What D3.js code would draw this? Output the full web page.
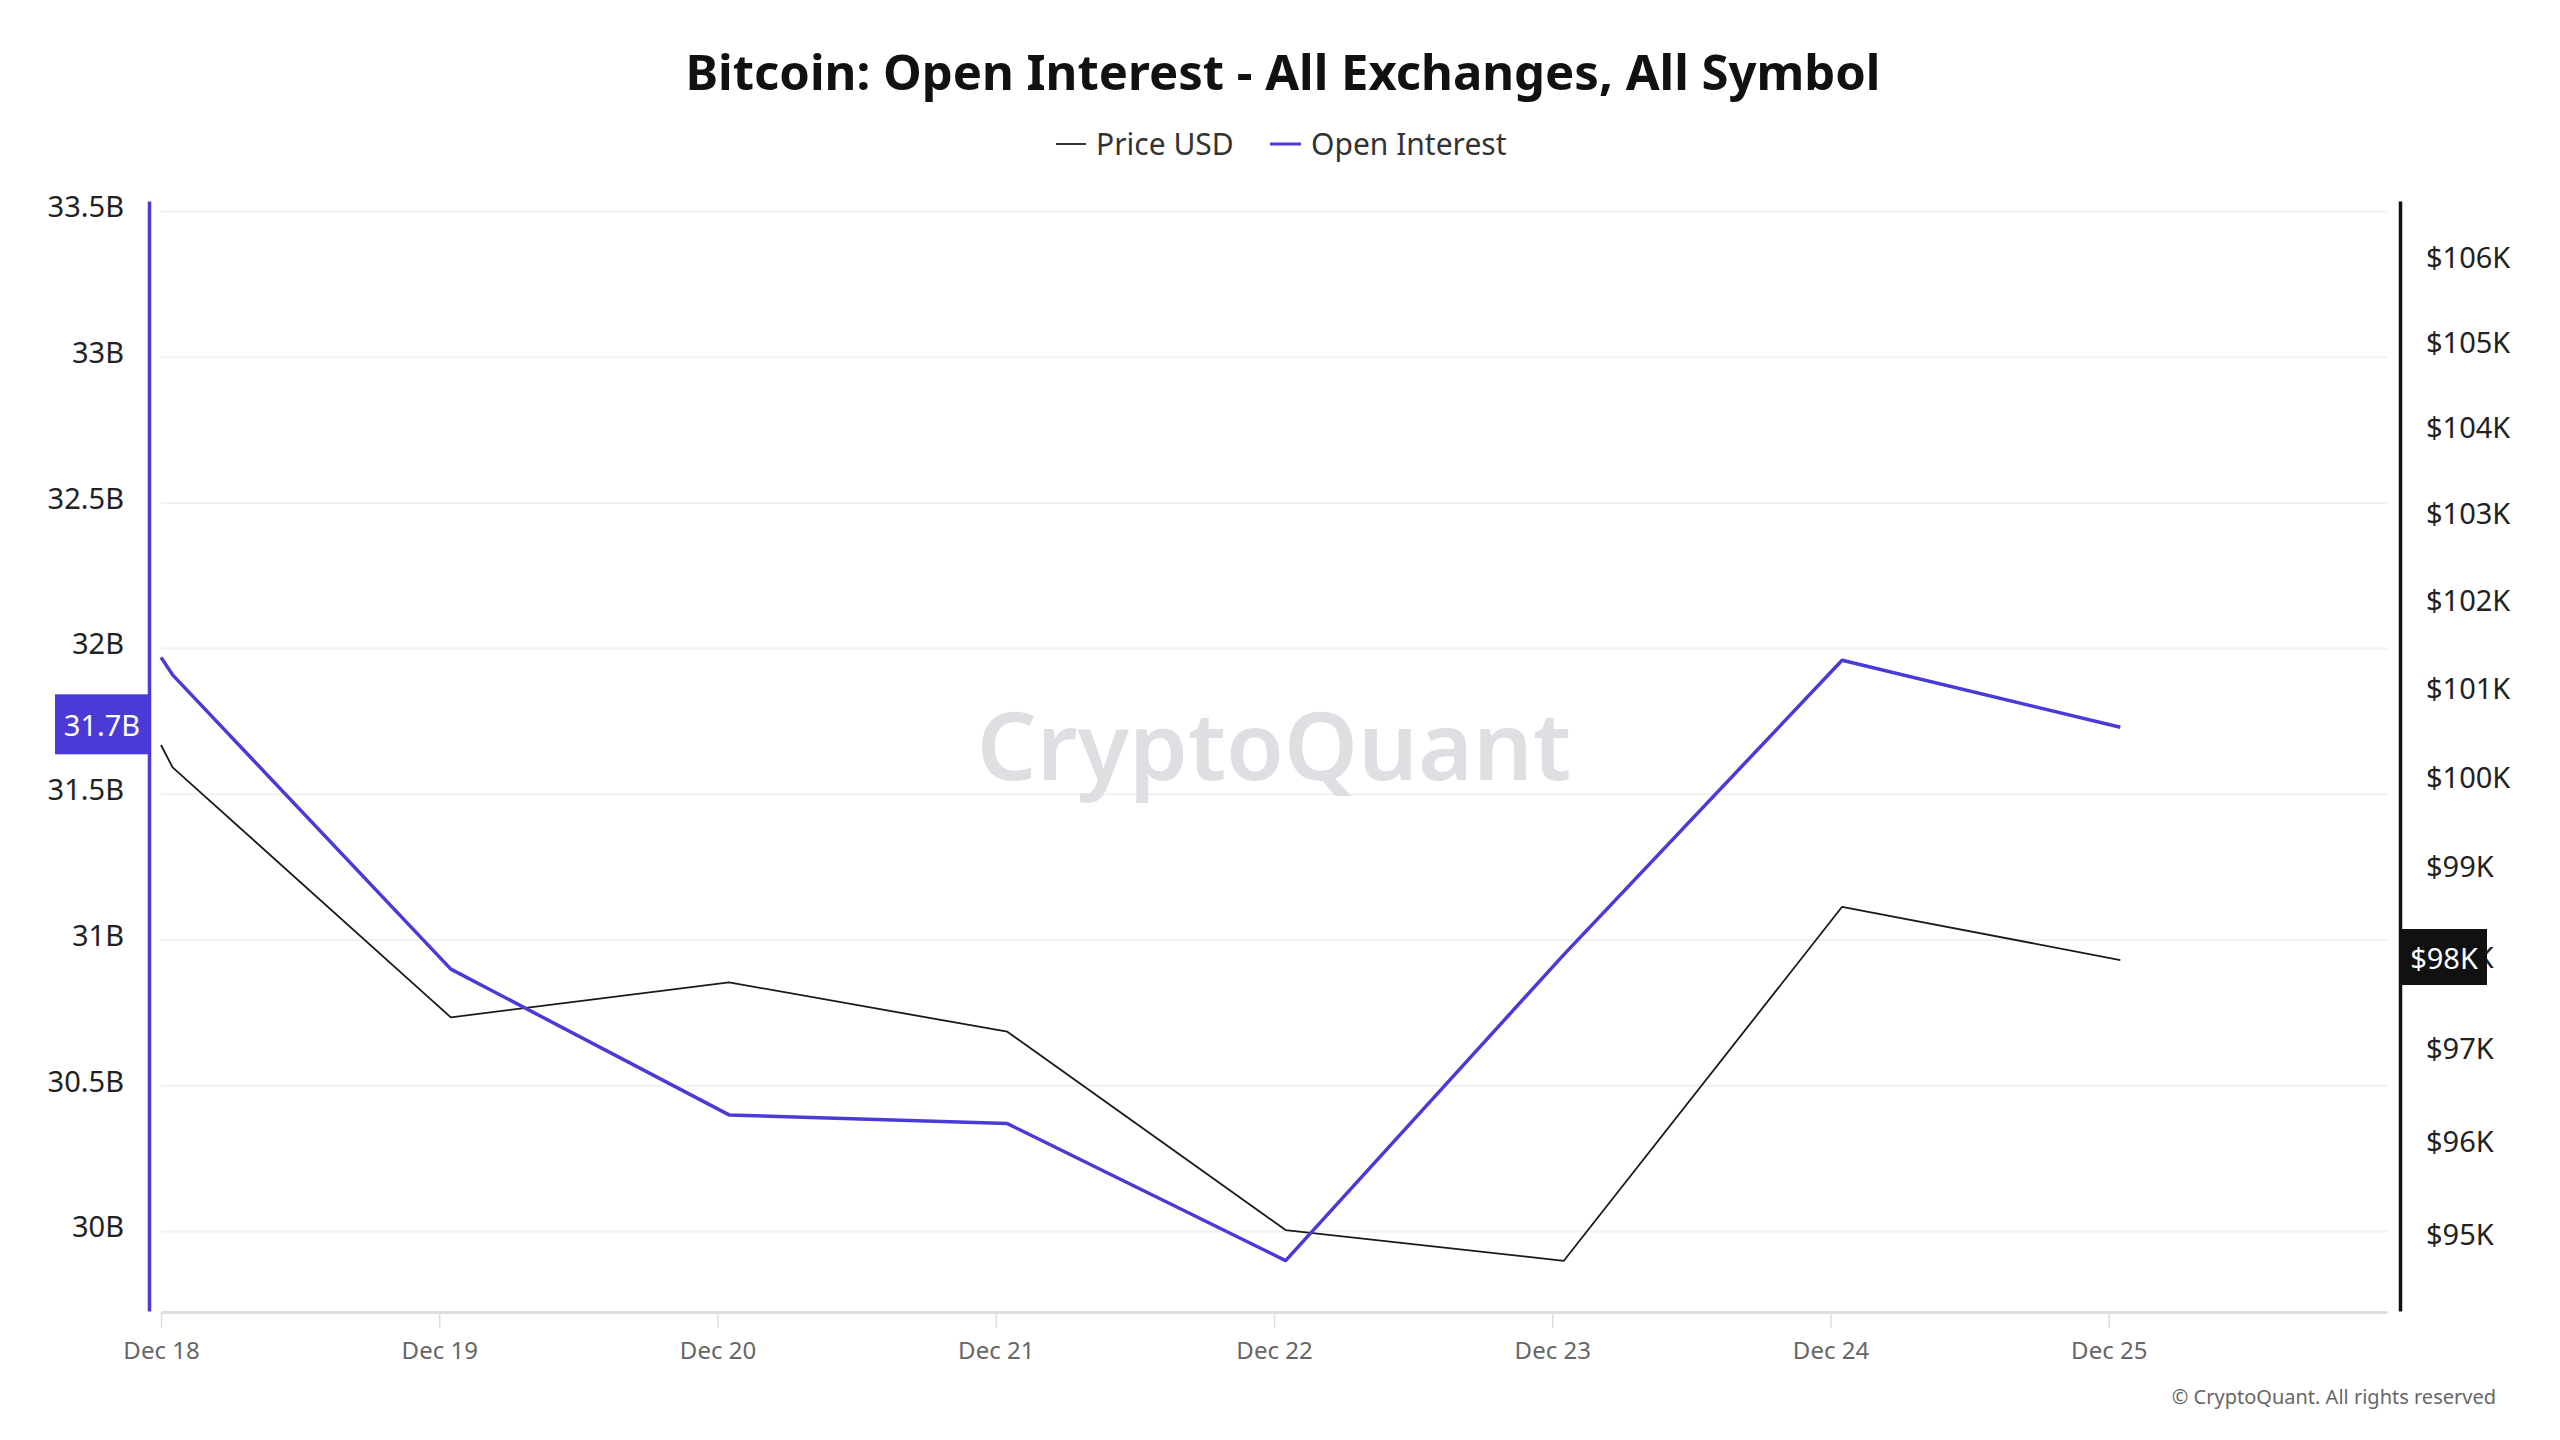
<!DOCTYPE html>
<html>
<head>
<meta charset="utf-8">
<script src="https://cdn.jsdelivr.net/npm/d3@7"></script>
<style>
  html, body { margin: 0; padding: 0; background: #ffffff; }
  svg { display: block; }
  text { font-family: "Noto Sans", "Open Sans", sans-serif; }
</style>
</head>
<body>
<svg id="chart" width="2560" height="1440"></svg>
<script>
// ---------- data ----------
const timestamps = [
  "2024-12-18T00:00:00Z", "2024-12-18T01:00:00Z", "2024-12-19T01:00:00Z",
  "2024-12-20T01:00:00Z", "2024-12-21T01:00:00Z", "2024-12-22T01:00:00Z",
  "2024-12-23T01:00:00Z", "2024-12-24T01:00:00Z", "2024-12-25T01:00:00Z"
];
const priceUSD = [100369, 100118, 97349, 97732, 97192, 95053, 94726, 98564, 97977];
const openInterest = [31.97e9, 31.91e9, 30.90e9, 30.40e9, 30.37e9, 29.90e9, 30.95e9, 31.96e9, 31.73e9];
const leftTicks = [30e9, 30.5e9, 31e9, 31.5e9, 32e9, 32.5e9, 33e9, 33.5e9];
const leftTickLabels = ["30B", "30.5B", "31B", "31.5B", "32B", "32.5B", "33B", "33.5B"];
const rightTicks = [95000, 96000, 97000, 98000, 99000, 100000, 101000, 102000, 103000, 104000, 105000, 106000];
const xTicks = ["2024-12-18", "2024-12-19", "2024-12-20", "2024-12-21", "2024-12-22", "2024-12-23", "2024-12-24", "2024-12-25"];
const xTickLabels = ["Dec 18", "Dec 19", "Dec 20", "Dec 21", "Dec 22", "Dec 23", "Dec 24", "Dec 25"];
const lastOILabel = "31.7B";
const lastPriceLabel = "$98K";

const titleText = "Bitcoin: Open Interest - All Exchanges, All Symbol";
const seriesNames = ["Price USD", "Open Interest"];

// ---------- layout ----------
const BLUE = "#4b3bd6";
const plotTop = 201, plotBottom = 1311;
const plotLeft = 161, plotRight = 2387;
const leftAxisX = 149, rightAxisX = 2400;

const svg = d3.select("#chart");

const x = d3.scaleUtc()
  .domain([new Date("2024-12-18T00:00:00Z"), new Date("2024-12-26T00:00:00Z")])
  .range([plotLeft, plotRight]);
const yL = d3.scaleLinear().domain([29.727e9, 33.536e9]).range([plotBottom, plotTop]);
const yR = d3.scaleLog().domain([94194, 106686]).range([plotBottom, plotTop]);

const dates = timestamps.map(s => new Date(s));

// title
svg.append("text")
  .attr("x", 1283).attr("y", 71)
  .attr("text-anchor", "middle").attr("dominant-baseline", "central")
  .attr("font-size", 49).attr("font-weight", 700).attr("fill", "#111")
  .text(titleText);

// legend
const legend = svg.append("g");
legend.append("line").attr("x1", 1056).attr("x2", 1086).attr("y1", 144).attr("y2", 144)
  .attr("stroke", "#333").attr("stroke-width", 2);
legend.append("text").attr("x", 1096).attr("y", 143).attr("dominant-baseline", "central")
  .attr("font-size", 30).attr("fill", "#333").text(seriesNames[0]);
legend.append("line").attr("x1", 1270).attr("x2", 1301).attr("y1", 144).attr("y2", 144)
  .attr("stroke", BLUE).attr("stroke-width", 3);
legend.append("text").attr("x", 1311).attr("y", 143).attr("dominant-baseline", "central")
  .attr("font-size", 30).attr("fill", "#333").text(seriesNames[1]);

// gridlines
svg.append("g").selectAll("line").data(leftTicks).join("line")
  .attr("x1", plotLeft).attr("x2", plotRight)
  .attr("y1", d => yL(d)).attr("y2", d => yL(d))
  .attr("stroke", "#f1f1f3").attr("stroke-width", 2);

// watermark
svg.append("text")
  .attr("x", 1274).attr("y", 744)
  .attr("text-anchor", "middle").attr("dominant-baseline", "central")
  .attr("font-size", 94).attr("font-weight", 600).attr("fill", "#dfdfe3")
  .text("CryptoQuant");

// x axis
const xAxis = d3.axisBottom(x)
  .tickValues(xTicks.map(s => new Date(s + "T00:00:00Z")))
  .tickFormat((d, i) => xTickLabels[i])
  .tickSizeInner(16).tickSizeOuter(0).tickPadding(14);
const gx = svg.append("g").attr("transform", `translate(0,${plotBottom + 1})`).call(xAxis);
gx.select(".domain").attr("stroke", "#dddddd").attr("stroke-width", 3);
gx.selectAll(".tick line").attr("stroke", "#dddddd").attr("stroke-width", 1.5);
gx.selectAll(".tick text").attr("font-size", 24).attr("fill", "#666")
  .attr("font-family", "'Noto Sans', sans-serif");

// left axis
const leftAxis = d3.axisLeft(yL).tickValues(leftTicks)
  .tickFormat((d, i) => leftTickLabels[i]).tickSize(0).tickPadding(25);
const gl = svg.append("g").attr("transform", `translate(${leftAxisX},0)`).call(leftAxis);
gl.select(".domain").attr("stroke", BLUE).attr("stroke-width", 3.5);
gl.selectAll(".tick text").attr("font-size", 29).attr("fill", "#222")
  .attr("transform", "translate(0,-4)")
  .attr("font-family", "'Noto Sans', sans-serif");

// right axis
const rightAxis = d3.axisRight(yR).tickValues(rightTicks)
  .tickFormat(d => "$" + (d / 1000) + "K").tickSize(0).tickPadding(26);
const gr = svg.append("g").attr("transform", `translate(${rightAxisX},0)`).call(rightAxis);
gr.select(".domain").attr("stroke", "#111").attr("stroke-width", 3.5);
gr.selectAll(".tick text").attr("font-size", 29).attr("fill", "#222")
  .attr("font-family", "'Noto Sans', sans-serif");

// lines
const priceLine = d3.line().x((d, i) => x(dates[i])).y(d => yR(d));
const oiLine = d3.line().x((d, i) => x(dates[i])).y(d => yL(d));

svg.append("path").datum(priceUSD).attr("d", priceLine)
  .attr("fill", "none").attr("stroke", "#1a1a1a").attr("stroke-width", 1.8)
  .attr("stroke-linejoin", "round");
svg.append("path").datum(openInterest).attr("d", oiLine)
  .attr("fill", "none").attr("stroke", BLUE).attr("stroke-width", 3.5)
  .attr("stroke-linejoin", "round");

// last value labels
const oiY = yL(openInterest[openInterest.length - 1]);
svg.append("rect").attr("x", 55).attr("y", oiY - 33).attr("width", 94).attr("height", 60)
  .attr("fill", BLUE);
svg.append("text").attr("x", 102).attr("y", oiY - 3)
  .attr("text-anchor", "middle").attr("dominant-baseline", "central")
  .attr("font-size", 29).attr("fill", "#fff").text(lastOILabel);

const pY = yR(priceUSD[priceUSD.length - 1]);
svg.append("rect").attr("x", 2401).attr("y", pY - 31).attr("width", 86).attr("height", 56)
  .attr("fill", "#111");
svg.append("text").attr("x", 2444).attr("y", pY - 3)
  .attr("text-anchor", "middle").attr("dominant-baseline", "central")
  .attr("font-size", 29).attr("fill", "#fff").text(lastPriceLabel);

// copyright
svg.append("text").attr("x", 2496).attr("y", 1396)
  .attr("text-anchor", "end").attr("dominant-baseline", "central")
  .attr("font-size", 20).attr("fill", "#666")
  .text("© CryptoQuant. All rights reserved");
</script>
</body>
</html>
